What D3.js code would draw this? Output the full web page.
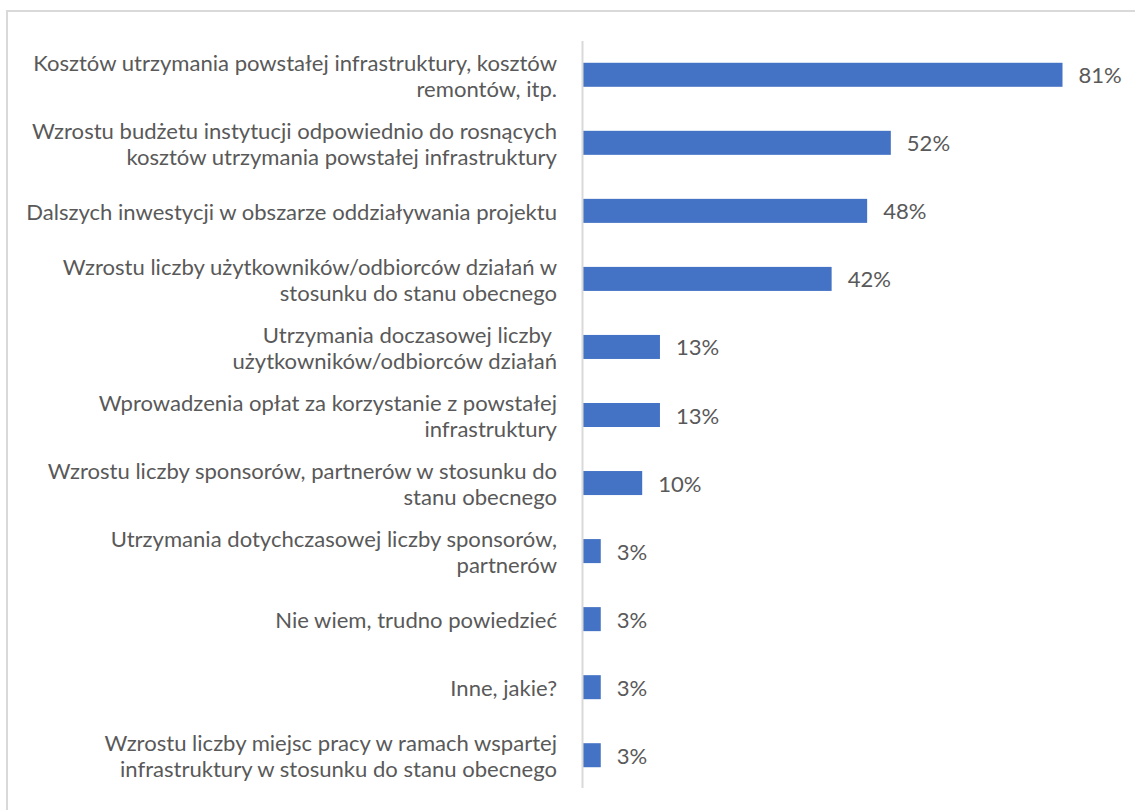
<!DOCTYPE html>
<html><head><meta charset="utf-8">
<script src="https://cdn.jsdelivr.net/npm/d3@7"></script>
<style>body{margin:0;background:#fff}svg{display:block}</style>
</head><body>
<script>
const categories = [
  ["Kosztów utrzymania powstałej infrastruktury, kosztów", "remontów, itp."],
  ["Wzrostu budżetu instytucji odpowiednio do rosnących", "kosztów utrzymania powstałej infrastruktury"],
  ["Dalszych inwestycji w obszarze oddziaływania projektu"],
  ["Wzrostu liczby użytkowników/odbiorców działań w", "stosunku do stanu obecnego"],
  ["Utrzymania doczasowej liczby ", "użytkowników/odbiorców działań"],
  ["Wprowadzenia opłat za korzystanie z powstałej", "infrastruktury"],
  ["Wzrostu liczby sponsorów, partnerów w stosunku do", "stanu obecnego"],
  ["Utrzymania dotychczasowej liczby sponsorów,", "partnerów"],
  ["Nie wiem, trudno powiedzieć"],
  ["Inne, jakie?"],
  ["Wzrostu liczby miejsc pracy w ramach wspartej", "infrastruktury w stosunku do stanu obecnego"]
];
const values = [81, 52, 48, 42, 13, 13, 10, 3, 3, 3, 3];
const valueLabels = ["81%", "52%", "48%", "42%", "13%", "13%", "10%", "3%", "3%", "3%", "3%"];

const W = 1135, H = 810;
const svg = d3.select("body").append("svg").attr("width", W).attr("height", H);
const FONT = "Lato, 'Open Sans', sans-serif";

// frame
svg.append("rect").attr("x", 7).attr("y", 11).attr("width", W + 20).attr("height", H + 20)
  .attr("fill", "#fff").attr("stroke", "#d9d9d9").attr("stroke-width", 2);

const x0 = 583;
const x = d3.scaleLinear().domain([0, 81]).range([x0, 1062.5]);
const idx = d3.range(categories.length);
const y = d3.scaleBand().domain(idx).range([41, 789]).paddingInner(0.647).paddingOuter(0.32);

// measure font size so first line width ≈ 524px
let fs = 20;
const probe = svg.append("text").attr("font-family", FONT).attr("font-size", 20).text(categories[0][0]);
const wl = probe.node().getComputedTextLength();
probe.remove();
fs = 20 * 524 / wl;

svg.append("g").selectAll("rect").data(idx).join("rect")
  .attr("x", x0).attr("y", i => y(i)).attr("width", i => x(values[i]) - x0)
  .attr("height", y.bandwidth()).attr("fill", "#4472C4");

// axis line
svg.append("line").attr("x1", 582.5).attr("x2", 582.5).attr("y1", 41).attr("y2", 788)
  .attr("stroke", "#d9d9d9").attr("stroke-width", 2);

const lh = 26;
const lg = svg.append("g").attr("font-family", FONT).attr("font-size", fs).attr("fill", "#595959");
idx.forEach(i => {
  const lines = categories[i];
  const cy = y(i) + y.bandwidth() / 2;
  const t = lg.append("text").attr("text-anchor", "end").attr("dominant-baseline", "central");
  lines.forEach((l, k) => {
    t.append("tspan").attr("x", 557).attr("y", cy + (k - (lines.length - 1) / 2) * lh).text(l);
  });
});

svg.append("g").attr("font-family", FONT).attr("font-size", fs).attr("fill", "#595959")
  .selectAll("text").data(idx).join("text")
  .attr("x", i => x(values[i]) + 16).attr("y", i => y(i) + y.bandwidth() / 2)
  .attr("dominant-baseline", "central").text(i => valueLabels[i]);
</script>
</body></html>
